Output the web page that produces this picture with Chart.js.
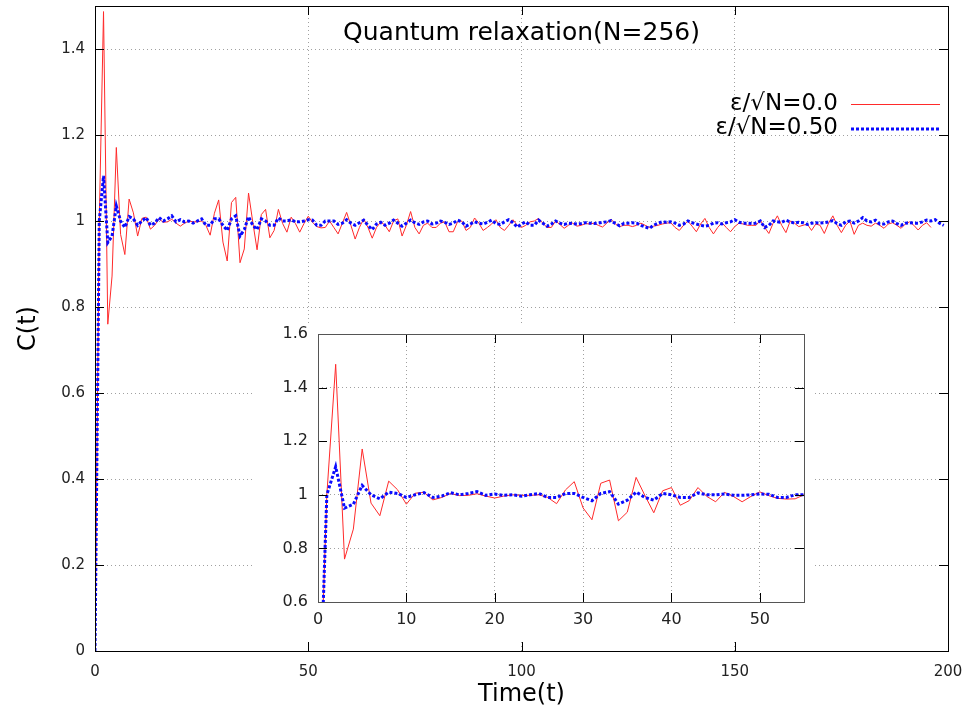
<!DOCTYPE html>
<html>
<head>
<meta charset="utf-8">
<script src="https://cdn.jsdelivr.net/npm/chart.js@4"></script>
<style>
  body { margin: 0; background: #fff; }
  #wrap { position: relative; width: 972px; height: 717px; }
  #mainChart { position: absolute; left: 0; top: 0; }
  #insetChart { position: absolute; left: 253px; top: 324px; background: #fff; }
</style>
</head>
<body>
<div id="wrap">
  <canvas id="mainChart" width="972" height="717"></canvas>
  <canvas id="insetChart" width="560" height="316"></canvas>
</div>
<script>
// C(t) sampled once per time unit, starting at t = 0
const timeStep = 1;
const seriesLabels = ['ε/√N=0.0', 'ε/√N=0.50'];
const chartTitle = 'Quantum relaxation(N=256)';

const redValues = [
  0, 1.0, 1.487, 0.76, 0.872, 1.171, 0.969, 0.922, 1.051, 1.019,
  0.965, 1.006, 1.009, 0.981, 0.99, 1.005, 0.997, 0.998, 1.004, 0.995,
  0.988, 0.995, 1.0, 0.998, 0.998, 1.0, 0.99, 0.967, 1.018, 1.049,
  0.951, 0.907, 1.043, 1.055, 0.903, 0.935, 1.065, 0.997, 0.933, 1.015,
  1.027, 0.961, 0.978, 1.027, 0.994, 0.974, 1.009, 0.994, 0.974, 0.994,
  1.011, 0.997, 0.987, 0.984, 0.985, 1.0, 0.985, 0.97, 0.995, 1.02,
  0.99, 0.958, 0.985, 1.005, 0.985, 0.96, 0.985, 0.998, 0.99, 0.975,
  1.0, 1.005, 0.965, 0.99, 1.022, 0.985, 0.97, 0.99, 0.995, 0.985,
  0.985, 0.995, 0.998, 0.975, 0.975, 0.998, 1.0, 0.978, 0.985, 1.007,
  0.995, 0.978, 0.985, 0.993, 1.003, 0.985, 0.978, 0.99, 1.003, 0.99,
  0.985, 0.99, 0.998, 1.0, 1.006, 0.995, 0.985, 0.985, 1.0, 0.992,
  0.983, 0.99, 0.995, 0.988, 0.99, 0.994, 0.993, 0.995, 0.99, 0.986,
  0.995, 1.004, 0.993, 0.987, 0.99, 0.99, 0.987, 0.99, 0.995, 0.99,
  0.985, 0.988, 0.99, 0.993, 0.995, 0.996, 0.985, 0.978, 0.99, 1.0,
  0.988, 0.975, 0.993, 1.006, 0.985, 0.97, 0.985, 0.996, 0.985, 0.975,
  0.987, 0.995, 0.993, 0.99, 0.99, 0.99, 1.002, 0.985, 0.971, 0.995,
  1.012, 0.99, 0.973, 1.0, 0.995, 0.987, 0.99, 0.993, 0.978, 0.993,
  0.99, 0.971, 0.995, 1.012, 0.99, 0.973, 0.99, 1.0, 0.969, 0.99,
  0.995, 0.99, 0.988, 0.995, 0.99, 0.983, 0.993, 0.996, 0.99, 0.983,
  0.993, 0.998, 0.99, 0.979, 0.99, 0.996, 0.985
];

const blueValues = [
  0, 1.0, 1.105, 0.95, 0.965, 1.035, 1.0, 0.985, 1.01, 1.005,
  0.99, 1.0, 1.008, 0.99, 0.995, 1.008, 1.0, 1.005, 1.012, 0.998,
  1.003, 0.998, 1.0, 0.995, 1.0, 1.005, 0.99, 0.99, 1.005, 1.005,
  0.99, 0.978, 1.005, 1.012, 0.965, 0.98, 1.01, 0.99, 0.98, 1.005,
  1.0, 0.99, 0.99, 1.007, 1.0, 1.0, 1.003, 0.998, 0.998, 1.0,
  1.003, 1.002, 0.99, 0.99, 1.0, 1.0, 1.0, 0.992, 0.995, 1.003,
  0.995, 0.99, 0.996, 1.002, 0.99, 0.98, 0.993, 0.997, 0.99, 0.995,
  1.002, 0.995, 0.988, 0.995, 1.002, 0.996, 0.992, 0.998, 1.0, 0.993,
  0.995, 1.0, 0.997, 0.992, 0.995, 1.002, 0.998, 0.988, 0.993, 0.998,
  0.995, 0.993, 0.997, 1.002, 0.994, 0.992, 0.998, 1.003, 0.996, 0.986,
  0.993, 0.998, 0.99, 0.99, 1.002, 0.995, 0.988, 0.993, 1.0, 0.995,
  0.992, 0.995, 0.994, 0.993, 0.994, 0.996, 0.995, 0.994, 0.995, 0.997,
  0.998, 1.001, 0.994, 0.989, 0.994, 0.995, 0.996, 0.995, 0.99, 0.986,
  0.983, 0.99, 0.995, 0.998, 0.997, 0.998, 0.995, 0.99, 0.993, 1.0,
  0.996, 0.993, 0.99, 0.988, 0.99, 0.995, 0.996, 0.993, 0.996, 0.998,
  1.003, 0.997, 0.995, 0.995, 0.994, 0.995, 1.0, 0.985, 0.99, 1.0,
  0.998, 0.997, 1.002, 0.998, 0.995, 0.997, 0.996, 0.992, 0.995, 0.996,
  0.995, 0.996, 0.998, 1.001, 0.994, 0.99, 0.998, 1.0, 0.995, 1.0,
  1.008, 1.0, 0.998, 1.002, 0.993, 0.993, 0.998, 1.0, 0.994, 0.99,
  0.995, 0.996, 0.995, 0.995, 0.998, 1.002, 1.0, 1.003, 0.995, 0.99
];

const mainXTicks = [0, 50, 100, 150, 200];
const mainYTicks = [0, 0.2, 0.4, 0.6, 0.8, 1, 1.2, 1.4];
const mainXRange = [0, 200];
const mainYRange = [0, 1.5];
const insetXTicks = [0, 10, 20, 30, 40, 50];
const insetYTicks = [0.6, 0.8, 1, 1.2, 1.4, 1.6];
const insetXRange = [0, 55];
const insetYRange = [0.6, 1.6];

const RED = '#ff2a2a';
const BLUE = '#0a0aff';
const FONT = "'DejaVu Sans', sans-serif";

function toPoints(values) {
  return values.map((v, i) => ({ x: i * timeStep, y: v }));
}

function fmt(v) {
  return String(+v.toFixed(2));
}

// border box, inward tick marks, and (for the main plot) title + key inside the frame
const framePlugin = {
  id: 'frame',
  afterDraw(chart, args, opts) {
    const { ctx, chartArea: a, scales } = chart;
    const len = opts.tick || 9;
    ctx.save();
    ctx.strokeStyle = '#000';
    ctx.lineWidth = 1;
    ctx.beginPath();
    scales.x.ticks.forEach(t => {
      const px = Math.round(scales.x.getPixelForValue(t.value)) + 0.5;
      ctx.moveTo(px, a.bottom); ctx.lineTo(px, a.bottom - len);
      ctx.moveTo(px, a.top); ctx.lineTo(px, a.top + len);
    });
    scales.y.ticks.forEach(t => {
      const py = Math.round(scales.y.getPixelForValue(t.value)) + 0.5;
      ctx.moveTo(a.left, py); ctx.lineTo(a.left + len, py);
      ctx.moveTo(a.right, py); ctx.lineTo(a.right - len, py);
    });
    ctx.stroke();
    ctx.strokeStyle = opts.borderColor || '#000';
    ctx.strokeRect(a.left + 0.5, a.top + 0.5, a.right - a.left, a.bottom - a.top);

    if (opts.title) {
      ctx.fillStyle = '#000';
      ctx.font = '25px ' + FONT;
      ctx.textAlign = 'center';
      ctx.textBaseline = 'middle';
      ctx.fillText(opts.title, (a.left + a.right) / 2, 33);
    }
    if (opts.key) {
      ctx.font = '23px ' + FONT;
      ctx.textAlign = 'right';
      ctx.textBaseline = 'middle';
      chart.data.datasets.forEach((ds, i) => {
        const y = 104 + i * 24.5;
        ctx.fillStyle = '#000';
        ctx.fillText(ds.label, 838, y);
        ctx.strokeStyle = ds.borderColor;
        ctx.lineWidth = ds.borderWidth;
        ctx.setLineDash(ds.borderDash || []);
        ctx.beginPath();
        ctx.moveTo(851, y + 0.5);
        ctx.lineTo(940, y + 0.5);
        ctx.stroke();
        ctx.setLineDash([]);
      });
    }
    ctx.restore();
  }
};

function makeDatasets(count) {
  return [
    {
      label: seriesLabels[0],
      data: toPoints(redValues.slice(0, count)),
      borderColor: RED,
      borderWidth: 1,
      pointRadius: 0,
      order: 1
    },
    {
      label: seriesLabels[1],
      data: toPoints(blueValues.slice(0, count)),
      borderColor: BLUE,
      borderWidth: 3,
      borderDash: [3, 2],
      pointRadius: 0,
      order: 0
    }
  ];
}

function makeScales(xTicks, yTicks, xRange, yRange, fontSize, yWidth, xHeight, withTitles) {
  const gridCfg = { color: '#a0a0a0', lineWidth: 1, drawTicks: false };
  // fixed axis boxes, no extra room for half labels
  const fixBox = (s, w, h) => {
    if (w) s.width = w;
    if (h) s.height = h;
    s.paddingTop = 0; s.paddingBottom = 0; s.paddingLeft = 0; s.paddingRight = 0;
  };
  return {
    x: {
      type: 'linear',
      min: xRange[0],
      max: xRange[1],
      afterBuildTicks: s => { s.ticks = xTicks.map(v => ({ value: v })); },
      afterFit: s => fixBox(s, 0, xHeight),
      grid: gridCfg,
      border: { display: false, dash: [1, 3] },
      ticks: { color: '#222', font: { family: FONT, size: fontSize }, padding: withTitles ? 12 : 8, maxRotation: 0, callback: fmt },
      title: withTitles ? { display: true, text: 'Time(t)', color: '#000', font: { family: FONT, size: 24 }, padding: { bottom: 8 } } : { display: false }
    },
    y: {
      type: 'linear',
      min: yRange[0],
      max: yRange[1],
      afterBuildTicks: s => { s.ticks = yTicks.map(v => ({ value: v })); },
      afterFit: s => fixBox(s, yWidth, 0),
      grid: gridCfg,
      border: { display: false, dash: [1, 3] },
      ticks: { color: '#222', font: { family: FONT, size: fontSize }, padding: 10, callback: fmt },
      title: withTitles ? { display: true, text: 'C(t)', color: '#000', font: { family: FONT, size: 24 }, padding: { top: 14 } } : { display: false }
    }
  };
}

new Chart(document.getElementById('mainChart'), {
  type: 'line',
  data: { datasets: makeDatasets(blueValues.length) },
  options: {
    responsive: false,
    animation: false,
    layout: { padding: { top: 6, right: 24, left: 0, bottom: 0 } },
    scales: makeScales(mainXTicks, mainYTicks, mainXRange, mainYRange, 15, 95, 66, true),
    plugins: {
      legend: { display: false },
      tooltip: { enabled: false },
      frame: { tick: 9, title: chartTitle, key: true }
    }
  },
  plugins: [framePlugin]
});

new Chart(document.getElementById('insetChart'), {
  type: 'line',
  data: { datasets: makeDatasets(57) },
  options: {
    responsive: false,
    animation: false,
    layout: { padding: { top: 10, right: 9, left: 0, bottom: 0 } },
    scales: makeScales(insetXTicks, insetYTicks, insetXRange, insetYRange, 16, 65, 38, false),
    plugins: {
      legend: { display: false },
      tooltip: { enabled: false },
      frame: { tick: 9, borderColor: '#555' }
    }
  },
  plugins: [framePlugin]
});
</script>
</body>
</html>
